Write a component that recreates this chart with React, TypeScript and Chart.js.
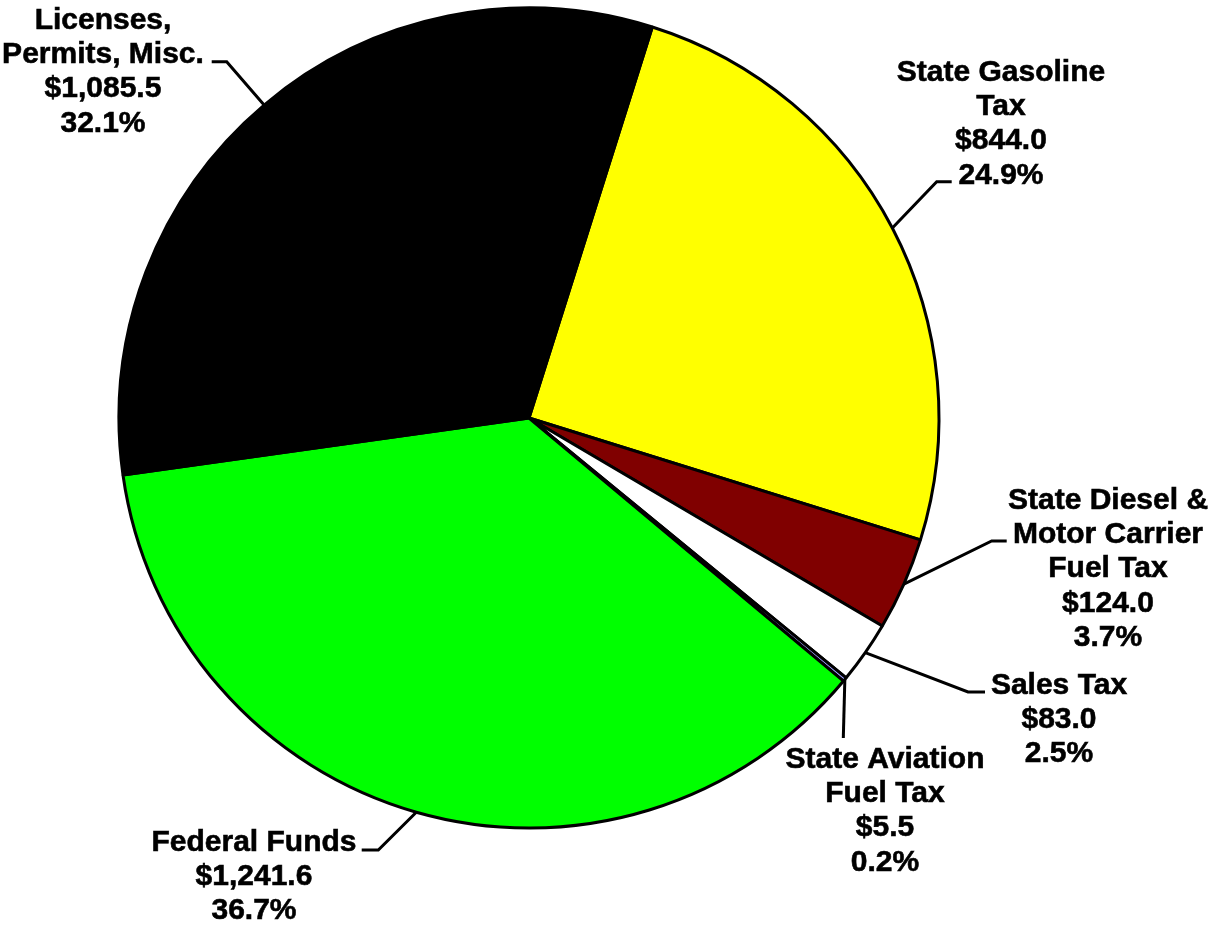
import React, { useEffect, useRef } from "react";
import { Chart, registerables } from "chart.js";

Chart.register(...registerables);

const categoryLines: string[][] = [
  ["State Gasoline", "Tax"],
  ["State Diesel &", "Motor Carrier", "Fuel Tax"],
  ["Sales Tax"],
  ["State Aviation", "Fuel Tax"],
  ["Federal Funds"],
  ["Licenses,", "Permits, Misc."],
];
const values: number[] = [844.0, 124.0, 83.0, 5.5, 1241.6, 1085.5];
const colors: string[] = ["#FFFF00", "#800000", "#FFFFFF", "#A0A0FF", "#00FF00", "#000000"];

// label layout: text centre x, first line centre y, leader start (at text), elbow
const labelX: number[] = [1001, 1108, 1059, 885, 254, 103];
const labelY: number[] = [70, 498, 683, 757, 840, 18];
const leaderStart: [number, number][] = [
  [951.7, 181.7],
  [1006.7, 541],
  [985, 692],
  [843.3, 738],
  [361.7, 850],
  [211.7, 61.7],
];
const leaderElbow: [number, number][] = [
  [936.7, 181.7],
  [991.7, 541],
  [968, 692],
  [843.3, 738],
  [378.3, 850],
  [226.7, 61.7],
];

const FONT = 'bold 30px "Liberation Sans", Arial, sans-serif';
const LINE_H = 34.3;

const fmtMoney = (v: number) =>
  "$" + v.toLocaleString("en-US", { minimumFractionDigits: 1, maximumFractionDigits: 1 });

const labelPlugin = {
  id: "pieLabels",
  afterDatasetsDraw(chart: any) {
    const ctx = chart.ctx;
    const meta = chart.getDatasetMeta(0);
    const total = values.reduce((a, b) => a + b, 0);
    ctx.save();
    meta.data.forEach((arc: any, i: number) => {
      const p = arc.getProps(["x", "y", "startAngle", "endAngle", "outerRadius"], true);
      const mid = (p.startAngle + p.endAngle) / 2;
      const ex = p.x + Math.cos(mid) * p.outerRadius;
      const ey = p.y + Math.sin(mid) * p.outerRadius;
      ctx.strokeStyle = "#000";
      ctx.lineWidth = 3;
      ctx.lineJoin = "miter";
      ctx.beginPath();
      ctx.moveTo(leaderStart[i][0], leaderStart[i][1]);
      ctx.lineTo(leaderElbow[i][0], leaderElbow[i][1]);
      ctx.lineTo(ex, ey);
      ctx.stroke();

      const lines = [
        ...categoryLines[i],
        fmtMoney(values[i]),
        ((values[i] / total) * 100).toFixed(1) + "%",
      ];
      ctx.fillStyle = "#000";
      ctx.strokeStyle = "#000";
      ctx.lineWidth = 0.6;
      ctx.font = FONT;
      ctx.textAlign = "center";
      ctx.textBaseline = "alphabetic";
      lines.forEach((t, k) => {
        const y = labelY[i] + k * LINE_H + 10.8;
        ctx.fillText(t, labelX[i], y);
        ctx.strokeText(t, labelX[i], y);
      });
    });
    ctx.restore();
  },
};

export default function App() {
  const ref = useRef<HTMLCanvasElement>(null);
  useEffect(() => {
    if (!ref.current) return;
    const chart = new Chart(ref.current, {
      type: "pie",
      data: {
        labels: categoryLines.map((l) => l.join(" ")),
        datasets: [
          {
            data: values,
            backgroundColor: colors,
            borderColor: "#000000",
            borderWidth: 3,
            hoverOffset: 0,
          },
        ],
      },
      options: {
        responsive: false,
        animation: false,
        rotation: 17.5,
        layout: { padding: { left: 117.5, right: 268.5, top: 6.5, bottom: 95.5 } },
        plugins: {
          legend: { display: false },
          tooltip: { enabled: false },
          title: { display: false },
        },
      },
      plugins: [labelPlugin],
    });
    return () => chart.destroy();
  }, []);
  return (
    <div style={{ position: "absolute", left: 0, top: 0, width: 1209, height: 925, background: "#fff" }}>
      <canvas ref={ref} width={1209} height={925} />
    </div>
  );
}
